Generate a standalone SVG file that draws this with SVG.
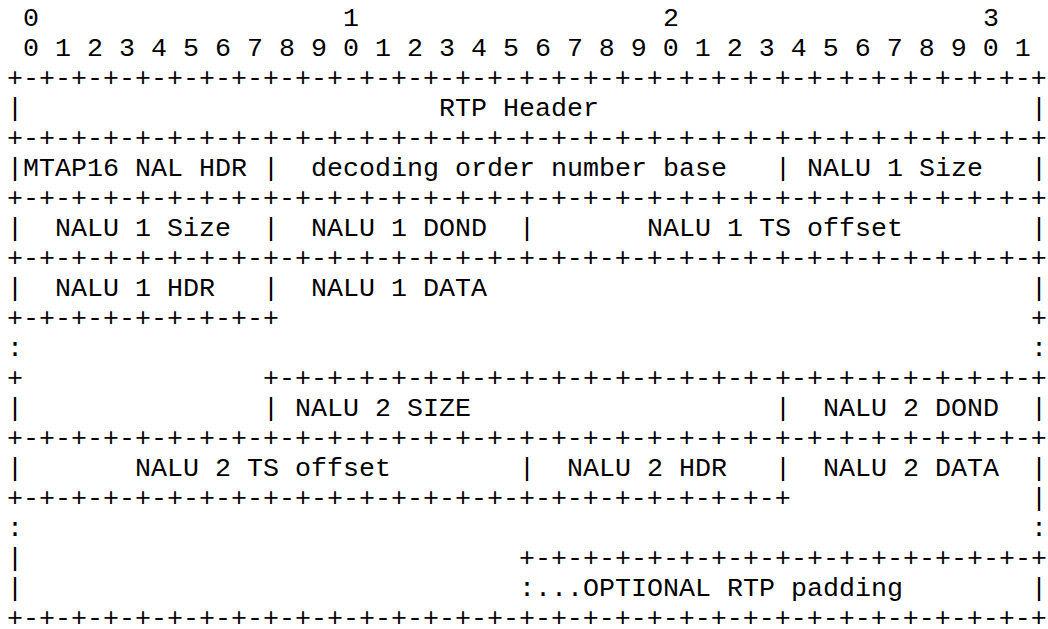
<svg xmlns="http://www.w3.org/2000/svg" width="1048" height="629" viewBox="0 0 1048 629">
<style>
text{font-family:"Courier New","Liberation Mono",monospace;font-size:26.67px;fill:#000;white-space:pre}
</style>
<rect width="1048" height="629" fill="#fff"/>
<g id="ruler">
<text x="23" y="26">0</text><text x="343" y="26">1</text><text x="663" y="26">2</text><text x="983" y="26">3</text>
<text x="23" y="56">0 1 2 3 4 5 6 7 8 9 0 1 2 3 4 5 6 7 8 9 0 1 2 3 4 5 6 7 8 9 0 1</text>
</g>
<g id="connectors">
<text x="7" y="86">+-+-+-+-+-+-+-+-+-+-+-+-+-+-+-+-+-+-+-+-+-+-+-+-+-+-+-+-+-+-+-+-+</text>
<text x="7" y="146">+-+-+-+-+-+-+-+-+-+-+-+-+-+-+-+-+-+-+-+-+-+-+-+-+-+-+-+-+-+-+-+-+</text>
<text x="7" y="206">+-+-+-+-+-+-+-+-+-+-+-+-+-+-+-+-+-+-+-+-+-+-+-+-+-+-+-+-+-+-+-+-+</text>
<text x="7" y="266">+-+-+-+-+-+-+-+-+-+-+-+-+-+-+-+-+-+-+-+-+-+-+-+-+-+-+-+-+-+-+-+-+</text>
<text x="7" y="326">+-+-+-+-+-+-+-+-+</text><text x="1031" y="326">+</text>
<text x="7" y="356">:</text><text x="1031" y="356">:</text>
<text x="7" y="386">+</text><text x="263" y="386">+-+-+-+-+-+-+-+-+-+-+-+-+-+-+-+-+-+-+-+-+-+-+-+-+</text>
<text x="7" y="446">+-+-+-+-+-+-+-+-+-+-+-+-+-+-+-+-+-+-+-+-+-+-+-+-+-+-+-+-+-+-+-+-+</text>
<text x="7" y="506">+-+-+-+-+-+-+-+-+-+-+-+-+-+-+-+-+-+-+-+-+-+-+-+-+</text><text x="1031" y="506">|</text>
<text x="7" y="536">:</text><text x="1031" y="536">:</text>
<text x="7" y="566">|</text><text x="519" y="566">+-+-+-+-+-+-+-+-+-+-+-+-+-+-+-+-+</text>
<text x="7" y="626">+-+-+-+-+-+-+-+-+-+-+-+-+-+-+-+-+-+-+-+-+-+-+-+-+-+-+-+-+-+-+-+-+</text>
</g>
<g id="rtp-header">
<text x="7" y="116">|</text><text x="439" y="116">RTP Header</text><text x="1031" y="116">|</text>
</g>
<g id="mtap16-row">
<text x="7" y="176">|MTAP16 NAL HDR</text><text x="263" y="176">|</text><text x="311" y="176">decoding order number base</text><text x="775" y="176">|</text><text x="807" y="176">NALU 1 Size</text><text x="1031" y="176">|</text>
</g>
<g id="nalu1-row">
<text x="7" y="236">|</text><text x="55" y="236">NALU 1 Size</text><text x="263" y="236">|</text><text x="311" y="236">NALU 1 DOND</text><text x="519" y="236">|</text><text x="647" y="236">NALU 1 TS offset</text><text x="1031" y="236">|</text>
</g>
<g id="nalu1-data">
<text x="7" y="296">|</text><text x="55" y="296">NALU 1 HDR</text><text x="263" y="296">|</text><text x="311" y="296">NALU 1 DATA</text><text x="1031" y="296">|</text>
</g>
<g id="nalu2-size">
<text x="7" y="416">|</text><text x="263" y="416">|</text><text x="295" y="416">NALU 2 SIZE</text><text x="775" y="416">|</text><text x="823" y="416">NALU 2 DOND</text><text x="1031" y="416">|</text>
</g>
<g id="nalu2-row">
<text x="7" y="476">|</text><text x="135" y="476">NALU 2 TS offset</text><text x="519" y="476">|</text><text x="567" y="476">NALU 2 HDR</text><text x="775" y="476">|</text><text x="823" y="476">NALU 2 DATA</text><text x="1031" y="476">|</text>
</g>
<g id="padding">
<text x="7" y="596">|</text><text x="519" y="596">:...OPTIONAL RTP padding</text><text x="1031" y="596">|</text>
</g>
</svg>
